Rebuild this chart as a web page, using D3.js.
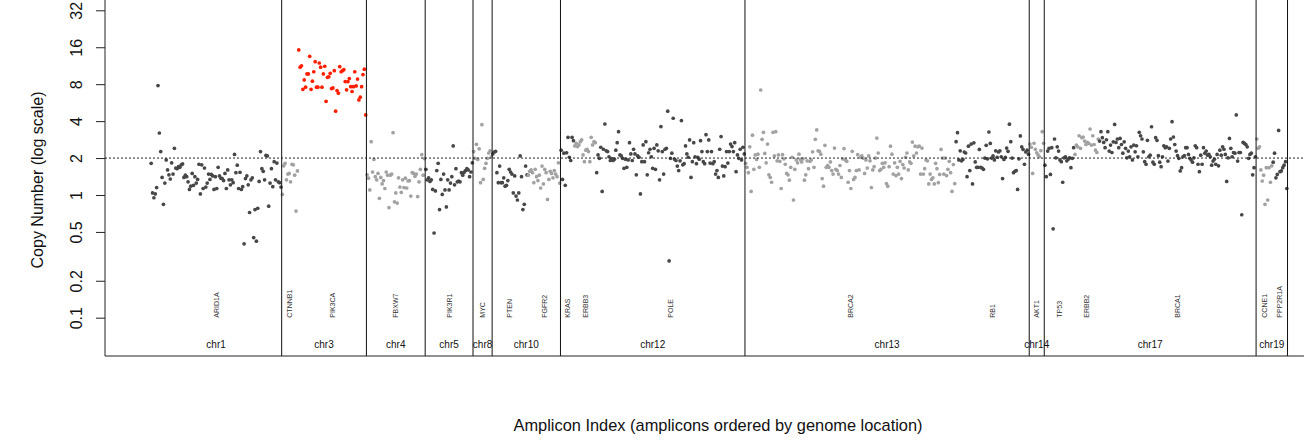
<!DOCTYPE html>
<html>
<head>
  <meta charset="utf-8"/>
  <title>Copy number by amplicon</title>
  <style>
    body { margin: 0; background: #fff; }
    svg { display: block; font-family: "Liberation Sans", Arial, sans-serif; }
  </style>
</head>
<body>
  <div id="chart"></div>

  <script src="https://cdn.jsdelivr.net/npm/d3@7"></script>
  <script>

  // copy number per amplicon, grouped by gene, in genome order
  var arid1a = [1.81,1.04,0.95,1.02,1.15,7.8,3.2,2.26,1.39,0.84,
    1.25,1.93,1.6,1.46,1.35,1.83,1.48,2.4,1.66,1.64,
    1.7,1.68,1.76,1.79,1.39,1.45,1.41,1.28,1.11,1.18,1.5,
    1.2,1.41,1.25,1.34,1.78,1.02,1.76,1.13,1.66,1.16,
    1.25,1.48,1.34,1.47,1.43,1.11,1.41,1.13,1.68,1.43,1.37,
    1.36,1.31,1.5,1.13,1.6,1.33,1.21,1.33,1.26,2.14,
    1.52,1.75,1.13,1.53,1.11,1.17,0.40,1.36,1.43,1.21,
    0.72,1.33,1.38,0.45,0.76,0.42,0.78,1.29,2.26,1.64,
    1.56,1.33,2.1,2.08,0.81,1.25,1.64,1.17,1.87,1.33,
    1.82,1.28,1.26,1.16];
  var ctnnb1 = [1.01,1.73,1.81,1.33,1.48,1.5,1.28,1.78,1.76,1.45,0.74,1.57];
  var pik3ca = [15.2,11.0,11.3,7.27,8.67,7.56,9.7,9.7,13.5,7.27,
    8.46,10.1,12.2,7.56,7.56,11.9,11.0,7.56,9.7,11.2,
    5.8,9.1,9.2,9.8,7.37,7.46,10.3,4.82,7.1,6.76,
    11.1,10.1,10.3,10.5,8.4,7.2,8.4,8.9,7.63,6.97,7.63,
    10.1,7.74,8.8,5.95,6.27,7.63,9.58,10.6,4.49];
  var fbxw7 = [1.46,1.37,1.10,2.72,1.54,1.95,1.41,1.33,1.5,0.94,
    1.39,1.23,1.31,1.13,1.54,1.45,0.79,1.45,1.48,3.22,
    0.88,1.04,0.86,1.38,1.16,1.05,1.33,1.15,1.37,1.14,
    1.30,1.31,0.98,1.52,1.5,1.42,1.48,0.97,1.28,1.62,2.13,1.45,1.98];
  var pik3r1 = [1.62,1.33,1.38,1.29,1.33,1.11,0.49,1.08,1.58,1.81,
    0.76,1.34,1.01,1.48,1.10,0.80,1.33,1.10,1.25,1.41,2.51,
    1.21,1.64,1.28,1.30,1.28,1.52,1.45,1.53,1.58,1.64,1.6,1.41,1.54,1.83];
  var myc = [2.26,1.99,2.59,1.95,2.38,1.26,3.74,1.34,1.65,1.81,1.99,2.2,2.29,2.05];
  var pten = [2.16,2.24,2.27,1.52,1.26,1.72,1.26,1.26,1.38,1.18,
    1.2,1.31,1.62,1.54,1.48,1.04,1.43,0.98,0.91,1.04,
    2.08,1.41,0.76,0.84,1.72,1.46];
  var fgfr2 = [1.45,1.56,1.6,1.52,1.26,1.62,1.41,1.31,1.45,1.14,
    1.72,1.23,1.62,1.52,0.92,1.34,1.56,1.5,1.38,1.58,1.48,1.41,1.83,1.25];
  var kras = [2.32,1.34,2.19,1.2,2.21,2.95,2.03,1.91,2.95,2.77];
  var erbb3 = [2.51,2.64,2.48,2.56,2.72,2.81,2.12,1.87,2.32,2.36,2.26,1.87,2.95,2.56,2.72,2.67];
  var pole = [1.52,2.12,1.99,2.45,1.07,2.36,3.79,2.29,2.26,2.05,
    1.91,1.98,1.91,1.96,2.32,2.67,3.28,2.12,2.08,1.99,
    1.65,1.96,1.68,1.93,2.67,2.16,1.91,2.36,2.16,1.46,
    2.08,2.03,1.02,1.87,2.56,1.87,2.72,1.46,2.21,2.36,
    2.05,1.65,2.4,1.62,2.56,2.29,1.33,3.61,2.26,1.48,
    2.36,2.4,4.82,0.29,1.99,2.19,4.22,1.96,1.91,1.72,
    1.58,1.9,4.04,1.76,1.8,2.51,2.16,2.03,2.81,1.39,
    1.87,2.67,2.05,1.8,2.03,1.96,2.77,2.26,1.87,1.8,
    3.1,2.26,2.81,1.82,2.26,1.8,1.87,1.48,1.58,1.39,
    2.36,2.99,1.72,1.43,1.7,2.26,1.82,2.26,2.6,2.48,
    2.26,2.67,1.55,2.12,1.99,2.36,1.93,2.45,2.16];
  var brca2 = [1.81,1.68,1.52,2.47,1.07,3.07,1.62,2.12,1.95,2.15,
    1.68,7.17,2.84,3.24,2.18,1.83,2.6,1.46,1.39,1.27,
    3.24,2.08,3.28,1.9,2.12,1.88,1.13,2.13,1.97,1.78,
    1.5,1.46,1.32,1.68,2.03,0.91,1.62,1.93,1.83,2.15,
    1.95,1.86,1.97,1.32,1.46,1.9,1.64,1.88,1.93,2.25,
    1.68,2.84,3.39,2.29,2.27,2.15,1.36,1.18,2.54,1.68,
    1.74,1.68,1.86,1.58,1.48,2.41,1.62,1.58,1.48,
    1.74,1.39,1.97,2.39,1.93,1.88,1.27,1.58,1.13,2.27,
    1.34,1.39,1.58,2.13,1.6,2.03,2.08,2.0,1.5,1.93,
    1.66,2.08,1.9,1.15,1.6,1.70,2.0,2.91,2.2,1.58,
    1.62,1.81,1.68,1.83,1.24,1.18,1.7,2.5,2.15,
    1.48,1.83,1.44,1.68,1.48,1.88,1.36,1.77,1.66,2.03,
    2.2,1.6,1.86,1.81,2.70,2.08,2.5,2.2,2.47,
    2.5,1.48,2.41,1.48,1.64,1.93,1.9,1.23,1.48,1.34,
    1.38,1.23,1.81,1.64,1.26,1.47,2.35,2.0,1.48,2.0,
    1.44,1.62,1.88,1.52,1.07,1.77,1.24];
  var rb1 = [2.72,3.22,1.93,2.29,1.9,1.95,2.24,2.2,1.41,2.5,
    1.58,2.6,1.23,2.66,1.86,1.68,1.68,2.35,1.68,1.66,
    1.62,2.0,2.54,1.97,3.26,2.63,2.0,2.08,1.93,2.29,
    2.03,2.24,2.29,2.05,1.36,1.95,2.03,2.41,2.27,3.78,
    2.72,2.0,1.52,1.56,1.58,1.11,1.97,3.03,2.47,2.35,
    1.78,2.24,2.32,2.15];
  var akt1 = [2.6,2.45,1.5,2.64,2.36,2.21,2.12,2.05,2.3,3.28,2.64];
  var tp53 = [1.75,1.41,2.28,2.40,1.47,2.43,0.53,2.86,2.01,2.47,
    2.28,1.93,1.87,1.27,2.01,2.05,1.9,1.96,2.01,1.67,1.99,2.43];
  var erbb2 = [2.14,2.55,2.47,3.04,2.4,2.93,2.97,2.75,2.58,2.68,
    2.63,3.45,2.55,3.04,2.58,2.32,2.22,2.86];
  var brca1 = [2.75,3.28,2.93,2.68,2.43,2.82,3.28,2.28,2.55,2.22,
    2.71,3.76,2.68,2.86,2.43,2.89,2.58,2.19,2.71,2.4,
    2.01,2.28,2.05,2.47,1.93,2.55,2.25,2.52,2.05,3.24,
    3.04,2.86,2.25,1.87,1.78,2.79,2.05,2.11,3.6,1.85,
    1.78,2.93,2.79,2.09,1.85,1.70,2.05,2.52,2.43,2.47,
    1.89,2.4,2.86,3.96,2.97,2.58,2.28,2.09,1.99,1.57,
    1.67,2.05,2.09,2.43,2.43,2.14,1.99,1.93,1.85,2.01,
    2.52,2.43,1.78,1.55,2.11,1.78,2.43,2.19,2.28,2.11,
    2.14,2.05,1.75,1.89,1.96,1.78,2.14,1.73,2.32,2.11,
    2.47,2.36,2.14,1.29,2.01,2.89,2.4,2.05,2.22,
    2.19,4.49,1.89,2.22,2.22,0.69,2.68,2.63,2.58,2.47,
    1.99,2.14,2.19,1.46,1.67,2.05];
  var ccne1 = [2.86,2.4,2.47,1.6,1.3,1.45,0.84,1.67,0.91,1.67,1.27,1.73];
  var ppp2r1a = [1.85,2.19,1.38,1.47,3.36,1.55,1.57,1.67,1.75,1.87,1.13];

  var geneNames = ["ARID1A","CTNNB1","PIK3CA","FBXW7","PIK3R1","MYC","PTEN","FGFR2","KRAS","ERBB3",
    "POLE","BRCA2","RB1","AKT1","TP53","ERBB2","BRCA1","CCNE1","PPP2R1A"];
  var geneChrom = ["chr1","chr3","chr3","chr4","chr5","chr8","chr10","chr10","chr12","chr12",
    "chr12","chr13","chr13","chr14","chr17","chr17","chr17","chr19","chr19"];
  var geneValues = [arid1a, ctnnb1, pik3ca, fbxw7, pik3r1, myc, pten, fgfr2, kras, erbb3,
    pole, brca2, rb1, akt1, tp53, erbb2, brca1, ccne1, ppp2r1a];
  var amplified = ["PIK3CA"];
  var yTicks = [0.1, 0.2, 0.5, 1, 2, 4, 8, 16, 32];

  var width = 1304, height = 447;
  var plotLeft = 105, plotRight = 1333, plotTop = -2, plotBottom = 356;

  // flatten into amplicons
  var amplicons = [];
  var genes = [];
  geneValues.forEach(function(vals, g){
    var start = amplicons.length;
    vals.forEach(function(v){
      amplicons.push({ idx: amplicons.length, cn: v, gene: g });
    });
    genes.push({ name: geneNames[g], chrom: geneChrom[g], start: start, end: amplicons.length });
  });
  var N = amplicons.length;

  var chroms = [];
  genes.forEach(function(g){
    var last = chroms[chroms.length - 1];
    if (last && last.name == g.chrom) last.end = g.end;
    else chroms.push({ name: g.chrom, start: g.start, end: g.end });
  });

  var x = d3.scaleLinear().domain([-0.04 * N, 1.04 * N]).range([plotLeft, plotRight]);
  var y = d3.scaleLog().base(2).domain([0.1, 32]).range([317.7, 10.3]);

  var svg = d3.select("#chart").append("svg")
    .attr("width", width)
    .attr("height", height);

  svg.append("rect").attr("width", width).attr("height", height).attr("fill", "#fff");

  // points
  svg.append("g").selectAll("circle")
    .data(amplicons)
    .enter().append("circle")
    .attr("cx", function(d){ return x(d.idx + 0.5); })
    .attr("cy", function(d){ return y(d.cn); })
    .attr("r", 1.85)
    .attr("fill", function(d){
      if (amplified.indexOf(geneNames[d.gene]) >= 0) return "#ff1e00";
      return d.gene % 2 == 0 ? "#474747" : "#a2a2a2";
    });

  // normal copy number line
  svg.append("line")
    .attr("x1", plotLeft).attr("x2", plotRight)
    .attr("y1", y(2)).attr("y2", y(2))
    .attr("stroke", "#222")
    .attr("stroke-dasharray", "2,2");

  // chromosome separators
  svg.append("g").selectAll("line")
    .data(chroms)
    .enter().append("line")
    .attr("x1", function(d){ return x(d.end); })
    .attr("x2", function(d){ return x(d.end); })
    .attr("y1", plotTop).attr("y2", plotBottom)
    .attr("stroke", "#111");

  // gene names
  svg.append("g").selectAll("text")
    .data(genes)
    .enter().append("text")
    .attr("transform", function(d){
      return "translate(" + x((d.start + d.end) / 2) + "," + y(0.1) + ") rotate(-90)";
    })
    .attr("dy", "0.35em")
    .attr("font-size", "7px")
    .attr("fill", "#333")
    .text(function(d){ return d.name; });

  // chromosome names
  svg.append("g").selectAll("text")
    .data(chroms)
    .enter().append("text")
    .attr("x", function(d){ return x((d.start + d.end) / 2); })
    .attr("y", plotBottom - 8)
    .attr("text-anchor", "middle")
    .attr("font-size", "10px")
    .attr("fill", "#111")
    .text(function(d){ return d.name; });

  // frame
  svg.append("path")
    .attr("d", "M" + plotRight + "," + plotBottom + "H" + plotLeft + "V" + plotTop)
    .attr("fill", "none")
    .attr("stroke", "#222");

  // y axis
  var yAxis = svg.append("g")
    .attr("transform", "translate(" + plotLeft + ",0)")
    .call(d3.axisLeft(y).tickValues(yTicks).tickSize(9).tickFormat(d3.format("")));
  yAxis.select(".domain").remove();
  yAxis.selectAll(".tick line").attr("stroke", "#222");
  yAxis.selectAll(".tick text")
    .attr("x", null)
    .attr("transform", "translate(-28.3,0) rotate(-90)")
    .attr("text-anchor", "middle")
    .attr("dy", "0.35em")
    .attr("font-size", "16px")
    .attr("font-family", "Liberation Sans, Arial, sans-serif")
    .attr("fill", "#111");

  svg.append("text")
    .attr("transform", "translate(37,180) rotate(-90)")
    .attr("text-anchor", "middle")
    .attr("dy", "0.35em")
    .attr("font-size", "16px")
    .attr("fill", "#111")
    .text("Copy Number (log scale)");

  svg.append("text")
    .attr("x", 718)
    .attr("y", 431)
    .attr("text-anchor", "middle")
    .attr("font-size", "16.4px")
    .attr("fill", "#111")
    .text("Amplicon Index (amplicons ordered by genome location)");

  </script>
</body>
</html>
